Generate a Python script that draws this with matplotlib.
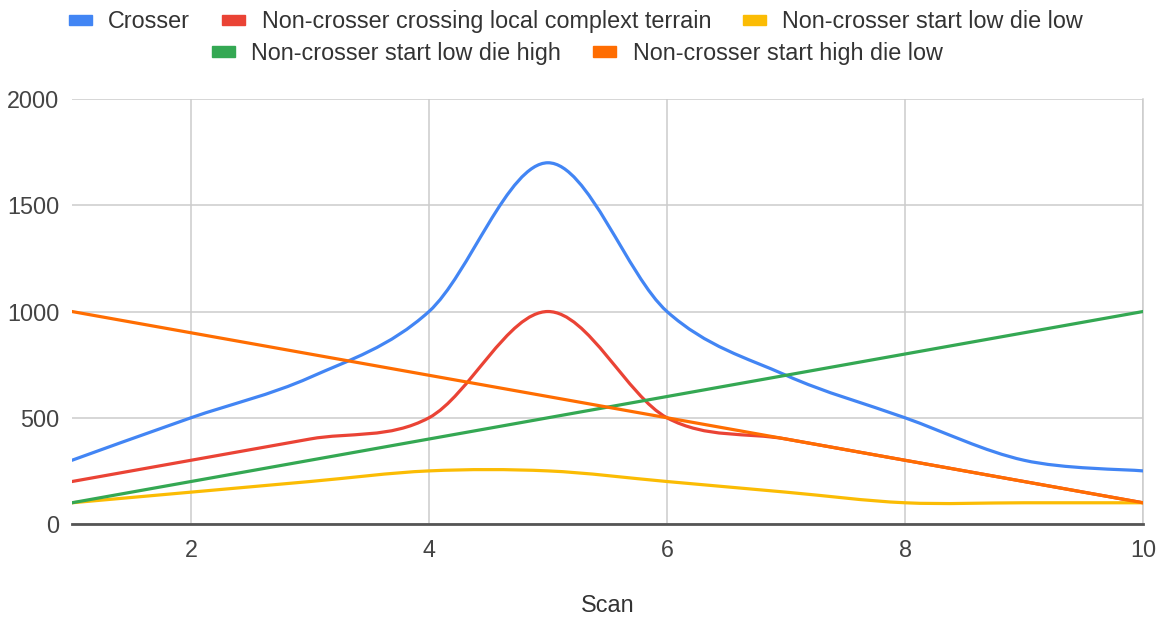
import numpy as np
import matplotlib.pyplot as plt
import matplotlib.patches as mpatches
from matplotlib.path import Path

plt.rcParams['font.family'] = ['Liberation Sans', 'DejaVu Sans']

scan = [1, 2, 3, 4, 5, 6, 7, 8, 9, 10]
crosser = [300, 500, 690, 1000, 1700, 1000, 700, 500, 300, 250]
complex_terrain = [200, 300, 400, 500, 1000, 500, 400, 300, 200, 100]
low_die_low = [100, 150, 200, 250, 250, 200, 150, 100, 100, 100]
low_die_high = [100, 200, 300, 400, 500, 600, 700, 800, 900, 1000]
high_die_low = [1000, 900, 800, 700, 600, 500, 400, 300, 200, 100]

series = [
    ("Crosser", crosser, "#4285F4"),
    ("Non-crosser crossing local complext terrain", complex_terrain, "#EA4335"),
    ("Non-crosser start low die low", low_die_low, "#FBBC04"),
    ("Non-crosser start low die high", low_die_high, "#34A853"),
    ("Non-crosser start high die low", high_die_low, "#FF6D01"),
]


def smooth_path(xs, ys):
    # Catmull-Rom spline through the points, expressed as cubic Bezier segments
    pts = np.column_stack([xs, ys]).astype(float)
    padded = np.vstack([pts[0], pts, pts[-1]])
    verts = [pts[0]]
    codes = [Path.MOVETO]
    for i in range(1, len(padded) - 2):
        p0, p1, p2, p3 = padded[i - 1], padded[i], padded[i + 1], padded[i + 2]
        c1 = p1 + (p2 - p0) / 6.0
        c2 = p2 - (p3 - p1) / 6.0
        verts += [c1, c2, p2]
        codes += [Path.CURVE4] * 3
    return Path(verts, codes)


fig = plt.figure(figsize=(11.66, 6.2), dpi=100)
ax = fig.add_axes([0.0617, 0.1548, 0.9186, 0.6855])

for i, (name, vals, color) in enumerate(series):
    patch = mpatches.PathPatch(smooth_path(scan, vals), facecolor='none',
                               edgecolor=color, linewidth=2.3,
                               capstyle='round', joinstyle='round', zorder=3 + i)
    ax.add_patch(patch)

fs = 16.8
ax.set_xlim(1, 10)
ax.set_ylim(0, 2000)
ax.set_xticks([2, 4, 6, 8, 10])
ax.set_yticks([0, 500, 1000, 1500, 2000])
ax.grid(True, color='#cccccc', linewidth=1.1, zorder=0)
ax.set_axisbelow(True)
for side in ['top', 'left']:
    ax.spines[side].set_visible(False)
ax.spines['right'].set_color('#cccccc')
ax.spines['right'].set_linewidth(1.1)
ax.spines['bottom'].set_color('#555555')
ax.spines['bottom'].set_linewidth(2)
ax.spines['bottom'].set_zorder(10)
ax.tick_params(length=0, labelsize=fs, labelcolor='#444444')
ax.tick_params(axis='x', pad=11)
ax.tick_params(axis='y', pad=9)
ax.set_xlabel('Scan', fontsize=fs, color='#333333', labelpad=23)

handles = [mpatches.Patch(color=c, label=n) for n, _, c in series]
leg_kw = dict(frameon=False, fontsize=fs, handlelength=1.0, handleheight=0.3,
              handletextpad=0.69, columnspacing=1.37, labelcolor='#333333',
              borderpad=0, borderaxespad=0)
fig.legend(handles=handles[:3], ncol=3, loc='center', bbox_to_anchor=(0.494, 0.965), **leg_kw)
fig.legend(handles=handles[3:], ncol=2, loc='center', bbox_to_anchor=(0.495, 0.914), **leg_kw)

fig.savefig('out.png', dpi=100)
